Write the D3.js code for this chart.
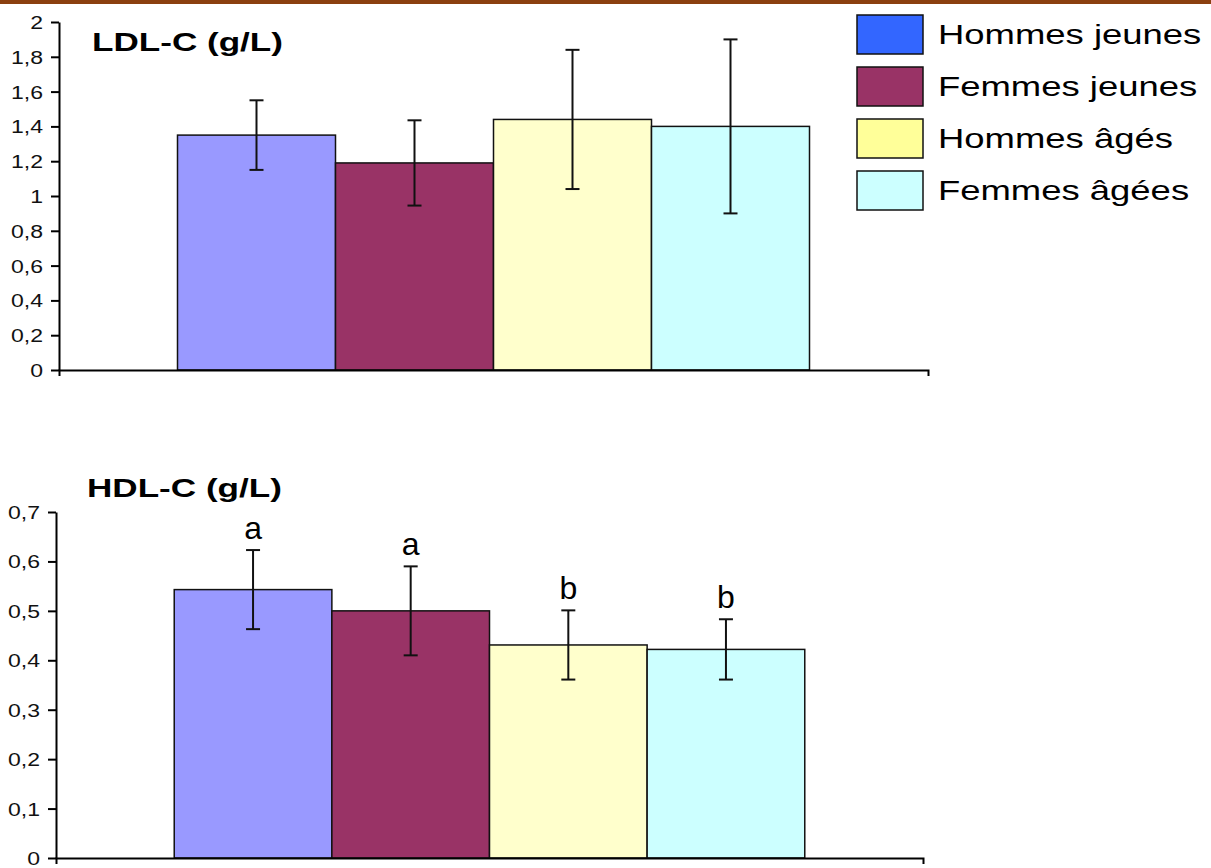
<!DOCTYPE html>
<html>
<head>
<meta charset="utf-8">
<script src="https://cdn.jsdelivr.net/npm/d3@7"></script>
<style>
  body { margin: 0; background: #fff; }
  svg { display: block; font-family: "Liberation Sans", Arial, sans-serif; }
</style>
</head>
<body>
<div id="chart"></div>
<script>
// groups (legend order)
const groups = ["Hommes jeunes", "Femmes jeunes", "Hommes âgés", "Femmes âgées"];

// LDL-C (g/L): mean and error
const ldlMean = [1.35, 1.19, 1.44, 1.40];
const ldlErr  = [0.20, 0.245, 0.40, 0.50];
const ldlTicks = [0, 0.2, 0.4, 0.6, 0.8, 1, 1.2, 1.4, 1.6, 1.8, 2];

// HDL-C (g/L): mean, error and significance letters
const hdlMean = [0.543, 0.50, 0.431, 0.422];
const hdlErr  = [0.08, 0.09, 0.07, 0.061];
const hdlLetters = ["a", "a", "b", "b"];
const hdlTicks = [0, 0.1, 0.2, 0.3, 0.4, 0.5, 0.6, 0.7];

const barColors = ["#9999ff", "#993366", "#ffffcc", "#ccffff"];
const legendColors = ["#3366ff", "#993366", "#ffff99", "#ccffff"];

const W = 1211, H = 868;
const SX = 1.35; // the source picture has wide, stretched lettering

const fr = d3.formatLocale({ decimal: ",", thousands: " ", grouping: [3], currency: ["", "€"] });
const fmt = fr.format("~g");

const svg = d3.select("#chart").append("svg")
  .attr("width", W)
  .attr("height", H);

// brown rule at the very top
svg.append("rect")
  .attr("x", 0).attr("y", 0)
  .attr("width", W).attr("height", 4)
  .attr("fill", "#8b4010");

function drawPanel(opts) {
  const g = svg.append("g")
    .attr("transform", "translate(" + opts.left + "," + opts.top + ")");

  const w = opts.right - opts.left;
  const h = opts.bottom - opts.top;

  const x = d3.scaleBand()
    .domain(groups)
    .range([0, w])
    .paddingInner(0)
    .paddingOuter(0.75);

  const y = d3.scaleLinear()
    .domain([0, opts.max])
    .range([h, 0]);

  // bars
  g.selectAll("rect.bar")
    .data(opts.mean)
    .enter()
    .append("rect")
    .attr("class", "bar")
    .attr("x", (d, i) => x(groups[i]))
    .attr("y", d => y(d))
    .attr("width", x.bandwidth())
    .attr("height", d => h - y(d))
    .attr("fill", (d, i) => barColors[i])
    .attr("stroke", "#111")
    .attr("stroke-width", 1.5);

  // error bars
  const eb = g.selectAll("g.err")
    .data(opts.mean)
    .enter()
    .append("g")
    .attr("class", "err")
    .attr("stroke", "#111")
    .attr("stroke-width", 2);

  const cx = i => x(groups[i]) + x.bandwidth() / 2;

  eb.append("line")
    .attr("x1", (d, i) => cx(i))
    .attr("x2", (d, i) => cx(i))
    .attr("y1", (d, i) => y(d + opts.err[i]))
    .attr("y2", (d, i) => y(d - opts.err[i]));
  eb.append("line")
    .attr("x1", (d, i) => cx(i) - 7)
    .attr("x2", (d, i) => cx(i) + 7)
    .attr("y1", (d, i) => y(d + opts.err[i]))
    .attr("y2", (d, i) => y(d + opts.err[i]));
  eb.append("line")
    .attr("x1", (d, i) => cx(i) - 7)
    .attr("x2", (d, i) => cx(i) + 7)
    .attr("y1", (d, i) => y(d - opts.err[i]))
    .attr("y2", (d, i) => y(d - opts.err[i]));

  // significance letters
  if (opts.letters) {
    g.selectAll("text.letter")
      .data(opts.letters)
      .enter()
      .append("text")
      .attr("class", "letter")
      .attr("x", (d, i) => cx(i))
      .attr("y", (d, i) => y(opts.mean[i] + opts.err[i]) - 11)
      .attr("text-anchor", "middle")
      .style("font-size", "32px")
      .attr("fill", "#000")
      .text(d => d);
  }

  // y axis
  const ya = g.append("g")
    .call(d3.axisLeft(y).tickValues(opts.ticks).tickFormat(fmt).tickSize(8).tickSizeOuter(0));
  ya.select(".domain").attr("stroke", "#000").attr("stroke-width", 2);
  ya.selectAll(".tick line").attr("stroke", "#000").attr("stroke-width", 2);
  ya.selectAll(".tick text")
    .attr("x", 0)
    .attr("dy", "0.36em")
    .attr("transform", "translate(-16,0) scale(1.28,1)")
    .attr("fill", "#111")
    .style("font-size", "18px");

  // x axis (no category labels, end ticks only)
  const xa = g.append("g")
    .attr("transform", "translate(0," + h + ")")
    .call(d3.axisBottom(x).tickValues([]).tickSizeOuter(6));
  xa.select(".domain").attr("stroke", "#000").attr("stroke-width", 2);

  // panel title
  svg.append("text")
    .attr("transform", "translate(" + opts.titleX + "," + opts.titleY + ") scale(" + SX + ",1)")
    .style("font-size", "26px")
    .style("font-weight", "bold")
    .attr("fill", "#000")
    .text(opts.title);
}

drawPanel({
  left: 59, right: 928, top: 22, bottom: 370,
  max: 2, ticks: ldlTicks,
  mean: ldlMean, err: ldlErr,
  title: "LDL-C (g/L)", titleX: 92, titleY: 51
});

drawPanel({
  left: 56, right: 923, top: 512, bottom: 858,
  max: 0.7, ticks: hdlTicks,
  mean: hdlMean, err: hdlErr, letters: hdlLetters,
  title: "HDL-C (g/L)", titleX: 87, titleY: 497
});

// legend
const legend = svg.append("g")
  .attr("transform", "translate(857,15)");

const item = legend.selectAll("g.item")
  .data(groups)
  .enter()
  .append("g")
  .attr("class", "item")
  .attr("transform", (d, i) => "translate(0," + i * 52 + ")");

item.append("rect")
  .attr("width", 66)
  .attr("height", 39)
  .attr("fill", (d, i) => legendColors[i])
  .attr("stroke", "#111")
  .attr("stroke-width", 1.5);

item.append("text")
  .attr("transform", "translate(81,29) scale(" + SX + ",1)")
  .style("font-size", "27px")
  .attr("fill", "#000")
  .text(d => d);
</script>
</body>
</html>
